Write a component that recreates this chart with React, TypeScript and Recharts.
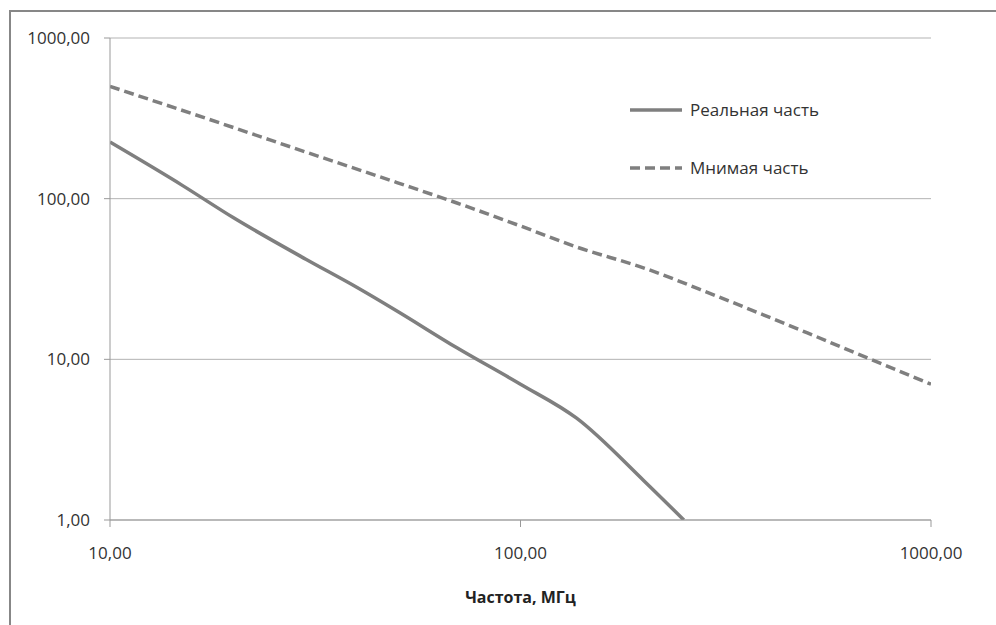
import { LineChart, Line, XAxis, YAxis, CartesianGrid, Legend, Label } from 'recharts';

// частота, МГц
const realFreq = [10, 15, 20, 30, 40, 50, 70, 100, 137, 200, 250];
const realValues = [225, 121, 76, 42, 28, 20, 11.8, 7.0, 4.3, 1.75, 1.0];

const imagFreq = [10, 20, 30, 50, 70, 100, 137, 200, 300, 500, 700, 1000];
const imagValues = [500, 277, 195, 126, 94, 67.6, 50, 37, 24.8, 14.6, 10.2, 7.0];

const xTicks = [10, 100, 1000];
const yTicks = [1, 10, 100, 1000];

const seriesNames = ['Реальная часть', 'Мнимая часть'];
const seriesDash = ['', '10 5'];

const realData = realFreq.map((x, i) => ({ x, y: realValues[i] }));
const imagData = imagFreq.map((x, i) => ({ x, y: imagValues[i] }));

const LINE = '#7f7f7f';
const TEXT = '#333';
const FONT = '"Open Sans", sans-serif';

const fmt = (v: number) => v.toFixed(2).replace('.', ',');

function LegendBox() {
  return (
    <div style={{ fontFamily: FONT, fontSize: 17, color: TEXT }}>
      {seriesNames.map((name, i) => (
        <div
          key={name}
          style={{ display: 'flex', alignItems: 'center', height: 24, marginTop: i === 0 ? 0 : 34 }}
        >
          <svg width={52} height={10} style={{ display: 'block' }}>
            <line x1={0} y1={5} x2={52} y2={5} stroke={LINE} strokeWidth={3.5} strokeDasharray={seriesDash[i] || undefined} />
          </svg>
          <span style={{ marginLeft: 8, lineHeight: '24px' }}>{name}</span>
        </div>
      ))}
    </div>
  );
}

export default function App() {
  return (
    <div style={{ position: 'fixed', left: 0, top: 0, width: 996, height: 625, overflow: 'hidden', background: '#fff' }}>
      <div
        style={{
          position: 'absolute',
          left: 9,
          top: 10,
          width: 1100,
          height: 800,
          borderLeft: '2px solid #878787',
          borderTop: '2px solid #878787',
        }}
      />
      <div style={{ position: 'absolute', left: 0, top: 0 }}>
        <LineChart width={996} height={625} margin={{ top: 38, right: 65, bottom: 20, left: 10 }}>
          <CartesianGrid vertical={false} stroke="#b3b3b3" />
          <XAxis
            dataKey="x"
            type="number"
            scale="log"
            domain={[10, 1000]}
            ticks={xTicks}
            allowDataOverflow
            tickFormatter={fmt}
            height={85}
            tickSize={7}
            tickMargin={20}
            stroke="#999"
            tick={{ fill: TEXT, fontSize: 17, fontFamily: FONT }}
          >
            <Label
              value="Частота, МГц"
              position="insideBottom"
              offset={2}
              style={{ fill: '#222', fontSize: 16, fontWeight: 700, fontFamily: FONT }}
            />
          </XAxis>
          <YAxis
            dataKey="y"
            type="number"
            scale="log"
            domain={[1, 1000]}
            ticks={yTicks}
            allowDataOverflow
            tickFormatter={fmt}
            width={100}
            tickSize={6}
            tickMargin={14}
            stroke="#999"
            tick={{ fill: TEXT, fontSize: 17, fontFamily: FONT }}
          />
          <Legend
            layout="vertical"
            align="center"
            verticalAlign="middle"
            content={() => <LegendBox />}
            wrapperStyle={{ position: 'absolute', left: 630, top: 98, width: 260 }}
          />
          <Line
            data={realData}
            dataKey="y"
            name={seriesNames[0]}
            type="monotone"
            stroke={LINE}
            strokeWidth={3.5}
            dot={false}
            isAnimationActive={false}
          />
          <Line
            data={imagData}
            dataKey="y"
            name={seriesNames[1]}
            type="monotone"
            stroke={LINE}
            strokeWidth={3.5}
            strokeDasharray={seriesDash[1]}
            dot={false}
            isAnimationActive={false}
          />
        </LineChart>
      </div>
    </div>
  );
}
